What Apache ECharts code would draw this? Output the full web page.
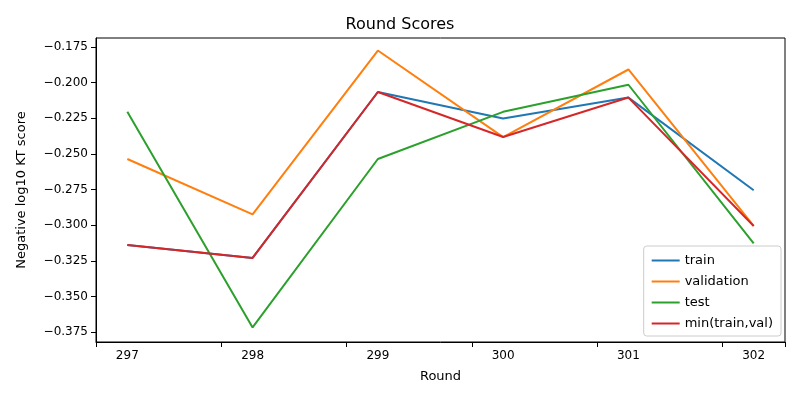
<!DOCTYPE html>
<html><head><meta charset="utf-8">
<script src="https://cdn.jsdelivr.net/npm/echarts@6/dist/echarts.min.js"></script>
<style>html,body{margin:0;padding:0;background:#fff}#c{width:800px;height:400px}</style>
</head><body><div id="c"></div>
<script>
const rounds = [297, 298, 299, 300, 301, 302];
const train = [-0.314, -0.323, -0.2066, -0.2252, -0.2105, -0.2755];
const validation = [-0.2536, -0.2925, -0.1775, -0.2382, -0.1908, -0.3006];
const test = [-0.2205, -0.3718, -0.2536, -0.2205, -0.2015, -0.3128];
const minTrainVal = [-0.314, -0.323, -0.2066, -0.2382, -0.2105, -0.3006];
const yTicks = [-0.375, -0.35, -0.325, -0.3, -0.275, -0.25, -0.225, -0.2, -0.175];
const names = ['train', 'validation', 'test', 'min(train,val)'];
const colors = ['#1f77b4', '#ff7f0e', '#2ca02c', '#d62728'];
const data = [train, validation, test, minTrainVal];
const font = 'DejaVu Sans';
const chart = echarts.init(document.getElementById('c'));
chart.setOption({
  animation: false,
  title: {text: 'Round Scores', left: 'center', top: 12, textStyle: {fontFamily: font, fontSize: 16, fontWeight: 'normal', color: '#000'}},
  grid: {left: 96, right: 15, top: 38, bottom: 58},
  legend: {orient: 'vertical', right: 19, bottom: 64, itemWidth: 28, itemHeight: 2, itemGap: 8,
    backgroundColor: '#fff', borderColor: '#ccc', borderWidth: 1, borderRadius: 3, padding: [8, 8, 6, 8],
    textStyle: {fontFamily: font, fontSize: 13, color: '#000'},
    data: names.map(n => ({name: n, icon: 'rect'}))},
  xAxis: {type: 'value', min: 296.75, max: 302.25, interval: 1,
    name: 'Round', nameLocation: 'middle', nameGap: 28, nameTextStyle: {fontFamily: font, fontSize: 13, color: '#000'},
    axisLine: {onZero: false, lineStyle: {color: '#000'}}, axisTick: {show: true, lineStyle: {color: '#000'}},
    axisLabel: {fontFamily: font, fontSize: 12, color: '#000', customValues: rounds},
    splitLine: {show: false}},
  yAxis: {type: 'value', min: -0.382, max: -0.1687,
    name: 'Negative log10 KT score', nameLocation: 'middle', nameGap: 68, nameTextStyle: {fontFamily: font, fontSize: 13, color: '#000'},
    axisLine: {show: true, lineStyle: {color: '#000'}},
    axisTick: {show: true, customValues: yTicks, lineStyle: {color: '#000'}},
    axisLabel: {fontFamily: font, fontSize: 12, color: '#000', customValues: yTicks, formatter: v => v.toFixed(3).replace('-', '−')},
    splitLine: {show: false}},
  series: names.map((n, i) => ({name: n, type: 'line', symbol: 'none', color: colors[i],
    lineStyle: {width: 2}, data: rounds.map((r, j) => [r, data[i][j]])}))
});
// frame on top/right
chart.setOption({graphic: [{type: 'rect', shape: {x: 96, y: 38, width: 689, height: 304}, style: {fill: 'none', stroke: '#000', lineWidth: 1}, silent: true, z: 0}]});
</script></body></html>
